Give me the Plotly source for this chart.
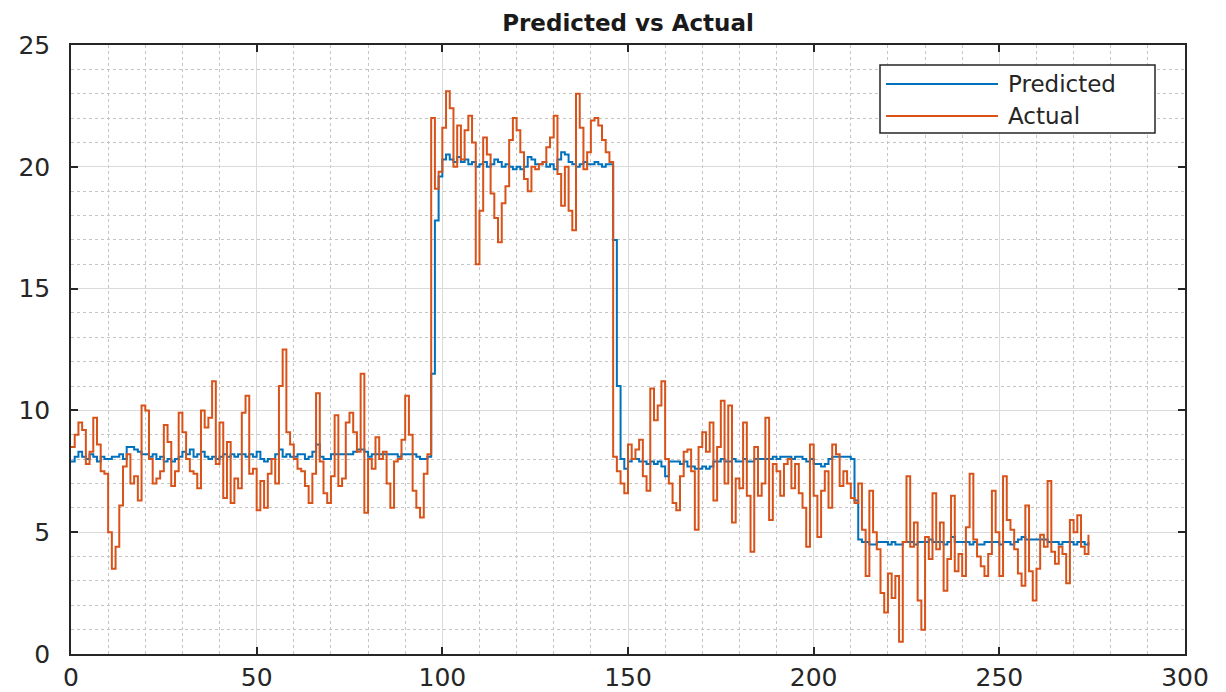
import plotly.graph_objects as go

# ---- data ----
actual = [
    8.5, 9.0, 9.5, 9.2, 7.8, 8.3, 9.7, 8.6, 7.5, 7.4,
    5.0, 3.5, 4.4, 6.1, 7.7, 8.2, 7.0, 7.3, 6.3, 10.2,
    10.0, 8.0, 7.0, 7.2, 7.5, 9.4, 8.7, 6.9, 7.5, 9.9,
    9.1, 8.0, 7.5, 7.4, 6.8, 10.0, 9.3, 9.7, 11.2, 7.8,
    9.5, 6.4, 8.7, 6.2, 7.2, 6.8, 9.9, 10.6, 7.4, 7.6,
    5.9, 7.1, 6.0, 7.4, 8.0, 7.0, 11.0, 12.5, 9.1, 8.6,
    8.0, 7.6, 7.5, 6.9, 6.2, 7.4, 10.7, 7.9, 6.6, 6.2,
    7.3, 9.8, 6.9, 7.2, 9.5, 9.9, 9.1, 8.3, 11.5, 5.8,
    8.0, 7.6, 8.9, 8.0, 8.3, 7.0, 6.0, 7.9, 8.0, 8.8,
    10.6, 9.0, 6.7, 6.0, 5.6, 7.4, 8.2, 22.0, 19.1, 19.8,
    21.6, 23.1, 22.4, 20.0, 21.7, 20.3, 21.5, 22.1, 21.0, 16.0,
    18.2, 21.2, 20.5, 18.9, 17.9, 16.9, 18.5, 19.2, 21.1, 22.0,
    21.5, 20.6, 19.5, 19.0, 20.0, 19.9, 20.1, 20.2, 20.8, 21.2,
    22.1, 19.7, 18.4, 20.0, 18.2, 17.4, 23.0, 21.6, 19.9, 20.6,
    21.9, 22.0, 21.7, 21.1, 20.6, 20.2, 8.1, 7.5, 7.0, 6.6,
    8.6, 8.0, 8.4, 8.8, 7.3, 6.7, 10.9, 9.6, 10.2, 11.2,
    8.0, 7.0, 6.2, 5.9, 7.3, 8.3, 8.4, 7.5, 5.1, 8.5,
    9.1, 8.3, 9.5, 6.3, 8.5, 10.4, 7.0, 10.2, 5.4, 7.2,
    6.8, 9.5, 6.5, 4.2, 8.5, 6.5, 7.0, 9.7, 5.5, 7.8,
    7.5, 6.5, 7.8, 8.0, 6.8, 7.8, 6.6, 6.0, 4.4, 8.6,
    6.5, 4.8, 6.7, 7.5, 6.0, 8.6, 8.2, 6.9, 7.5, 7.0,
    6.4, 6.2, 7.0, 5.1, 3.2, 6.7, 5.0, 4.3, 2.5, 1.7,
    3.3, 2.3, 3.2, 0.5, 4.6, 7.3, 4.4, 5.4, 2.2, 1.0,
    4.8, 3.9, 6.6, 4.3, 5.4, 2.6, 3.9, 6.5, 3.4, 4.1,
    3.2, 5.2, 7.4, 4.7, 4.0, 3.6, 3.2, 4.1, 6.7, 5.0,
    3.2, 7.3, 5.5, 5.1, 4.3, 3.3, 2.8, 6.1, 3.4, 2.2,
    3.5, 4.9, 4.4, 7.1, 4.2, 3.7, 4.4, 4.1, 2.9, 5.5,
    5.0, 5.7, 4.4, 4.1, 4.9,
]

predicted = [
    7.9, 8.1, 8.3, 8.1, 8.0, 8.2, 8.1, 7.9, 8.1, 8.0,
    8.0, 8.1, 8.1, 8.2, 8.0, 8.5, 8.5, 8.4, 8.3, 8.2,
    8.2, 8.1, 8.2, 8.0, 8.1, 7.9, 8.0, 7.9, 8.0, 8.1,
    8.3, 8.2, 8.4, 8.1, 8.2, 8.3, 8.1, 8.0, 8.1, 8.0,
    8.1, 8.2, 8.1, 8.2, 8.1, 8.2, 8.2, 8.1, 8.2, 8.1,
    8.3, 8.0, 7.9, 8.0, 8.0, 8.2, 8.4, 8.1, 8.2, 8.1,
    8.1, 8.2, 8.2, 8.0, 8.1, 8.3, 8.6, 8.1, 8.0, 8.0,
    8.2, 8.2, 8.2, 8.2, 8.2, 8.2, 8.3, 8.4, 8.4, 8.3,
    8.1, 8.2, 8.2, 8.2, 8.2, 8.2, 8.2, 8.2, 8.1, 8.2,
    8.2, 8.2, 8.2, 8.1, 8.0, 8.0, 8.1, 11.5, 17.8, 19.6,
    20.3, 20.5, 20.3, 20.2, 20.4, 20.2, 20.3, 20.1, 20.2, 20.0,
    20.1, 20.2, 20.0, 20.1, 20.3, 20.2, 20.0, 20.1, 20.0, 19.9,
    20.0, 19.9, 20.0, 20.4, 20.3, 20.1, 20.1, 20.2, 20.0, 20.1,
    19.9, 20.3, 20.6, 20.5, 20.2, 20.1, 20.0, 20.1, 20.2, 20.1,
    20.1, 20.2, 20.1, 20.0, 20.1, 20.1, 17.0, 11.0, 8.0, 7.6,
    7.9, 8.0, 8.0, 7.9, 7.9, 7.8, 7.9, 7.8, 7.9, 7.7,
    7.3, 7.9, 7.9, 7.9, 7.8, 7.9, 7.7, 7.7, 7.6, 7.6,
    7.7, 7.6, 7.7, 7.9, 7.9, 8.0, 7.9, 7.9, 8.0, 7.9,
    7.9, 8.0, 7.9, 7.9, 8.0, 8.0, 8.0, 8.0, 8.0, 8.1,
    8.0, 8.1, 8.1, 8.1, 8.0, 8.1, 8.1, 8.0, 7.9, 8.0,
    7.8, 7.8, 7.7, 7.8, 8.0, 8.1, 8.1, 8.1, 8.1, 8.1,
    8.0, 6.3, 4.7, 4.6, 4.6, 4.5, 4.5, 4.6, 4.6, 4.6,
    4.5, 4.6, 4.5, 4.5, 4.6, 4.6, 4.6, 4.5, 4.6, 4.6,
    4.6, 4.7, 4.6, 4.6, 4.6, 4.5, 4.6, 4.8, 4.6, 4.6,
    4.6, 4.6, 4.5, 4.6, 4.5, 4.5, 4.6, 4.6, 4.6, 4.6,
    4.5, 4.6, 4.6, 4.5, 4.6, 4.7, 4.8, 4.7, 4.7, 4.7,
    4.7, 4.7, 4.7, 4.6, 4.6, 4.6, 4.5, 4.6, 4.6, 4.6,
    4.5, 4.6, 4.6, 4.5, 4.6,
]

x = list(range(len(actual)))
series_names = ["Predicted", "Actual"]
series_colors = ["#0072BD", "#D95319"]
x_ticks = [0, 50, 100, 150, 200, 250, 300]
y_ticks = [0, 5, 10, 15, 20, 25]
title_text = "Predicted vs Actual"

FONT = "DejaVu Sans"
W, H = 1226, 692
OFF = 8  # page body margin
# target plot area on screen: left 71, right 1185, top 45, bottom 654
ML = 71 - OFF
MT = 45 - OFF
MR = W - (1185 - OFF)
MB = H - (654 - OFF)
PW, PH = W - ML - MR, H - MT - MB

fig = go.Figure()
fig.add_trace(go.Scatter(x=x, y=predicted, mode="lines", name=series_names[0],
                         line=dict(color=series_colors[0], width=2, shape="hv"),
                         showlegend=False))
fig.add_trace(go.Scatter(x=x, y=actual, mode="lines", name=series_names[1],
                         line=dict(color=series_colors[1], width=2, shape="hv"),
                         showlegend=False))

axis_common = dict(
    showline=True, linecolor="#262626", linewidth=1.5, mirror="allticks",
    ticks="inside", ticklen=7, tickcolor="#262626", tickwidth=1.5,
    showgrid=True, gridcolor="#dadada", gridwidth=1,
    zeroline=False, automargin=False,
    tickfont=dict(family=FONT, size=25, color="#262626"),
)

fig.update_xaxes(range=[0, 300], tickvals=x_ticks, ticktext=[str(v) for v in x_ticks],
                 minor=dict(dtick=10, tick0=0, showgrid=True, gridcolor="#c4c4c4",
                            griddash="dot", gridwidth=1, ticks=""),
                 ticklabelstandoff=0, **axis_common)
fig.update_yaxes(range=[0, 25], tickvals=y_ticks, ticktext=[str(v) for v in y_ticks],
                 minor=dict(dtick=1, tick0=0, showgrid=True, gridcolor="#c4c4c4",
                            griddash="dot", gridwidth=1, ticks=""),
                 ticklabelstandoff=14, **axis_common)

# legend box (MATLAB style), positions given in screen pixels
def px_to_paper(px, py):
    return (px - OFF - ML) / PW, (H - MB - (py - OFF)) / PH

lx0, ly0 = px_to_paper(880, 65)
lx1, ly1 = px_to_paper(1155, 133)
shapes = [dict(type="rect", xref="paper", yref="paper", x0=lx0, x1=lx1, y0=ly1, y1=ly0,
               line=dict(color="#262626", width=1.5), fillcolor="white", layer="above")]
annotations = []
for i, (nm, col) in enumerate(zip(series_names, series_colors)):
    yy = 84 + i * 32
    a0, b0 = px_to_paper(886, yy)
    a1, _ = px_to_paper(998, yy)
    shapes.append(dict(type="line", xref="paper", yref="paper", x0=a0, x1=a1, y0=b0, y1=b0,
                       line=dict(color=col, width=2), layer="above"))
    tx, _ = px_to_paper(1006, yy)
    annotations.append(dict(xref="paper", yref="paper", x=tx, y=b0, text=nm,
                            showarrow=False, xanchor="left", yanchor="middle",
                            font=dict(family=FONT, size=23, color="#262626")))

fig.update_layout(
    width=W, height=H,
    margin=dict(l=ML, r=MR, t=MT, b=MB, autoexpand=False),
    paper_bgcolor="white", plot_bgcolor="white",
    title=dict(text="<b>" + title_text + "</b>", x=(ML + PW / 2) / W, xanchor="center",
               y=1 - (23 - OFF) / H, yanchor="middle",
               font=dict(family=FONT, size=23, color="#1a1a1a")),
    shapes=shapes, annotations=annotations,
    showlegend=False,
)

fig.write_html("out.html")
